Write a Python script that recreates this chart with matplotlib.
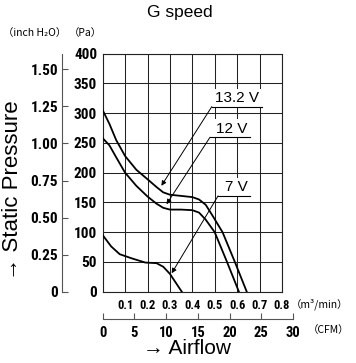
import matplotlib
matplotlib.use("Agg")
import matplotlib.pyplot as plt
from matplotlib import font_manager

# ---------------- data ----------------
flow_132 = [0, 0.03, 0.06, 0.10, 0.15, 0.20, 0.24, 0.27, 0.30, 0.35, 0.40, 0.43, 0.46, 0.49, 0.535, 0.59, 0.643]
pres_132 = [305, 282, 255, 228, 205, 189, 176, 167, 163, 161, 159, 155, 146, 128, 100, 50, 0]

flow_12 = [0, 0.03, 0.06, 0.10, 0.15, 0.20, 0.24, 0.27, 0.30, 0.35, 0.40, 0.43, 0.46, 0.50, 0.555, 0.608]
pres_12 = [258, 246, 226, 200, 178, 160, 148, 141, 138, 138, 137, 133, 121, 100, 50, 0]

flow_7 = [0, 0.038, 0.076, 0.13, 0.19, 0.24, 0.27, 0.30, 0.33, 0.353]
pres_7 = [95, 76, 63, 56, 49, 48, 42, 30, 13, 0]

series_labels = ["13.2 V", "12 V", "7 V"]

pa_ticks = [0, 50, 100, 150, 200, 250, 300, 350, 400]
inch_ticks = [0, 0.25, 0.50, 0.75, 1.00, 1.25, 1.50]
inch_labels = ["0", "0.25", "0.50", "0.75", "1.00", "1.25", "1.50"]
m3_ticks = [0.1, 0.2, 0.3, 0.4, 0.5, 0.6, 0.7, 0.8]
m3_labels = ["0.1", "0.2", "0.3", "0.4", "0.5", "0.6", "0.7", "0.8"]
cfm_ticks = [0, 5, 10, 15, 20, 25, 30]

PA_PER_INCH = 249.089
M3_PER_CFM = 0.0283168

# ---------------- fonts ----------------
entries = font_manager.fontManager.ttflist
num_family = None
num_stretch = "normal"
for pref in ("Liberation Sans Narrow", "Roboto Condensed", "Open Sans Condensed",
             "DejaVu Sans Condensed"):
    if any(e.name == pref for e in entries):
        num_family = pref
        break
if num_family is None:
    for e in entries:
        if ("Narrow" in e.name or "Condensed" in e.name):
            num_family = e.name
            break
if num_family is None:
    for e in entries:
        if e.name == "DejaVu Sans" and str(e.stretch) in ("condensed", "semi-condensed"):
            num_family = "DejaVu Sans"
            num_stretch = "condensed"
            break
if num_family is None:
    num_family = "Liberation Sans"
NUM = [num_family, "DejaVu Sans"]
SANS = ["Liberation Sans", "DejaVu Sans"]
CJK = ["Noto Sans CJK JP", "DejaVu Sans"]
narrow_ok = num_family != "Liberation Sans"


def style_num(lab, size):
    lab.set_fontfamily(NUM)
    lab.set_fontweight("bold")
    lab.set_fontstretch(num_stretch)
    lab.set_fontsize(size if narrow_ok else size * 0.9)


W, H = 356, 363
fig = plt.figure(figsize=(W / 100, H / 100), dpi=100)


def fx(px):
    return px / W


def fy(py):
    return 1 - py / H


L, R, T, B = 102.7, 281.9, 53.7, 291.7
ax = fig.add_axes([fx(L), fy(B), (R - L) / W, (B - T) / H])
ax.set_xlim(0, 0.8)
ax.set_ylim(0, 400)

ax.set_xticks(m3_ticks)
ax.set_xticklabels(m3_labels)
ax.set_yticks(pa_ticks)
ax.set_yticklabels([str(v) for v in pa_ticks])
ax.tick_params(axis="both", length=0)
ax.tick_params(axis="y", pad=4)
ax.tick_params(axis="x", pad=5)
for lab in ax.get_yticklabels():
    style_num(lab, 11)
for lab in ax.get_xticklabels():
    style_num(lab, 9)
ax.grid(True, color="#222222", linewidth=0.75)
ax.set_axisbelow(True)
for s in ax.spines.values():
    s.set_color("#222222")
    s.set_linewidth(0.8)

lw = 1.3
ax.plot(flow_132, pres_132, color="black", lw=lw, zorder=3)
ax.plot(flow_12, pres_12, color="black", lw=lw, zorder=3)
ax.plot(flow_7, pres_7, color="black", lw=lw, zorder=3)

# callouts: (text, text x center, underline y, underline x0, underline x1, arrow tip)
callouts = [
    (series_labels[0], 0.60, 311, 0.487, 0.71, (0.262, 178)),
    (series_labels[1], 0.578, 259.5, 0.479, 0.657, (0.285, 147)),
    (series_labels[2], 0.597, 161, 0.515, 0.657, (0.308, 31)),
]
for txt, tx, uy, ux0, ux1, tip in callouts:
    ax.text(tx, uy + 3, txt, ha="center", va="bottom", fontsize=11, family=SANS,
            zorder=4, bbox=dict(fc="white", ec="none", pad=1.5))
    ax.plot([ux0, ux1], [uy, uy], color="black", lw=0.8, zorder=5)
    ax.annotate("", xy=tip, xytext=(ux0, uy),
                arrowprops=dict(arrowstyle="-|>", color="black", lw=0.7,
                                mutation_scale=7, shrinkA=0, shrinkB=0),
                zorder=5)

# inch H2O axis
axi = fig.add_axes([fx(62.3), fy(B), 0.01, (B - T) / H])
axi.set_ylim(0, 400 / PA_PER_INCH)
axi.set_xticks([])
axi.set_yticks(inch_ticks)
axi.set_yticklabels(inch_labels)
axi.patch.set_visible(False)
for k in ("top", "right", "bottom"):
    axi.spines[k].set_visible(False)
axi.spines["left"].set_color("#555555")
axi.spines["left"].set_linewidth(0.8)
axi.tick_params(axis="y", direction="in", length=4, width=0.8, color="#555555", pad=3)
for lab in axi.get_yticklabels():
    style_num(lab, 11)

# CFM axis
cfm_max = 0.8 / M3_PER_CFM
axc = fig.add_axes([fx(L), fy(319), (R - L) / W * (30 / cfm_max), 0.001])
axc.set_xlim(0, 30)
axc.set_yticks([])
axc.set_xticks(cfm_ticks)
axc.set_xticklabels([str(v) for v in cfm_ticks])
axc.patch.set_visible(False)
for k in ("top", "right", "left"):
    axc.spines[k].set_visible(False)
axc.spines["bottom"].set_color("#555555")
axc.spines["bottom"].set_linewidth(0.8)
axc.tick_params(axis="x", direction="in", length=4, width=0.8, color="#555555", pad=5)
for lab in axc.get_xticklabels():
    style_num(lab, 10.5)

# texts
fig.text(fx(180), fy(13), "G speed", ha="center", va="center", fontsize=12.5,
         family=SANS)
fig.text(fx(35), fy(33), "（inch H₂O）", ha="center", va="center", fontsize=7.5,
         family=CJK)
fig.text(fx(85), fy(33), "（Pa）", ha="center", va="center", fontsize=7.5,
         family=CJK)
fig.text(fx(320), fy(304), "（m³/min）", ha="center", va="center", fontsize=7.5,
         family=CJK)
fig.text(fx(329), fy(330), "（CFM）", ha="center", va="center", fontsize=7.5,
         family=CJK)
fig.text(fx(187), fy(348), "→ Airflow", ha="center", va="center", fontsize=15,
         family=SANS)
fig.text(fx(13), fy(190), "→ Static Pressure", ha="center", va="center",
         rotation=90, fontsize=16, family=SANS)

fig.savefig("out.png", dpi=100)
